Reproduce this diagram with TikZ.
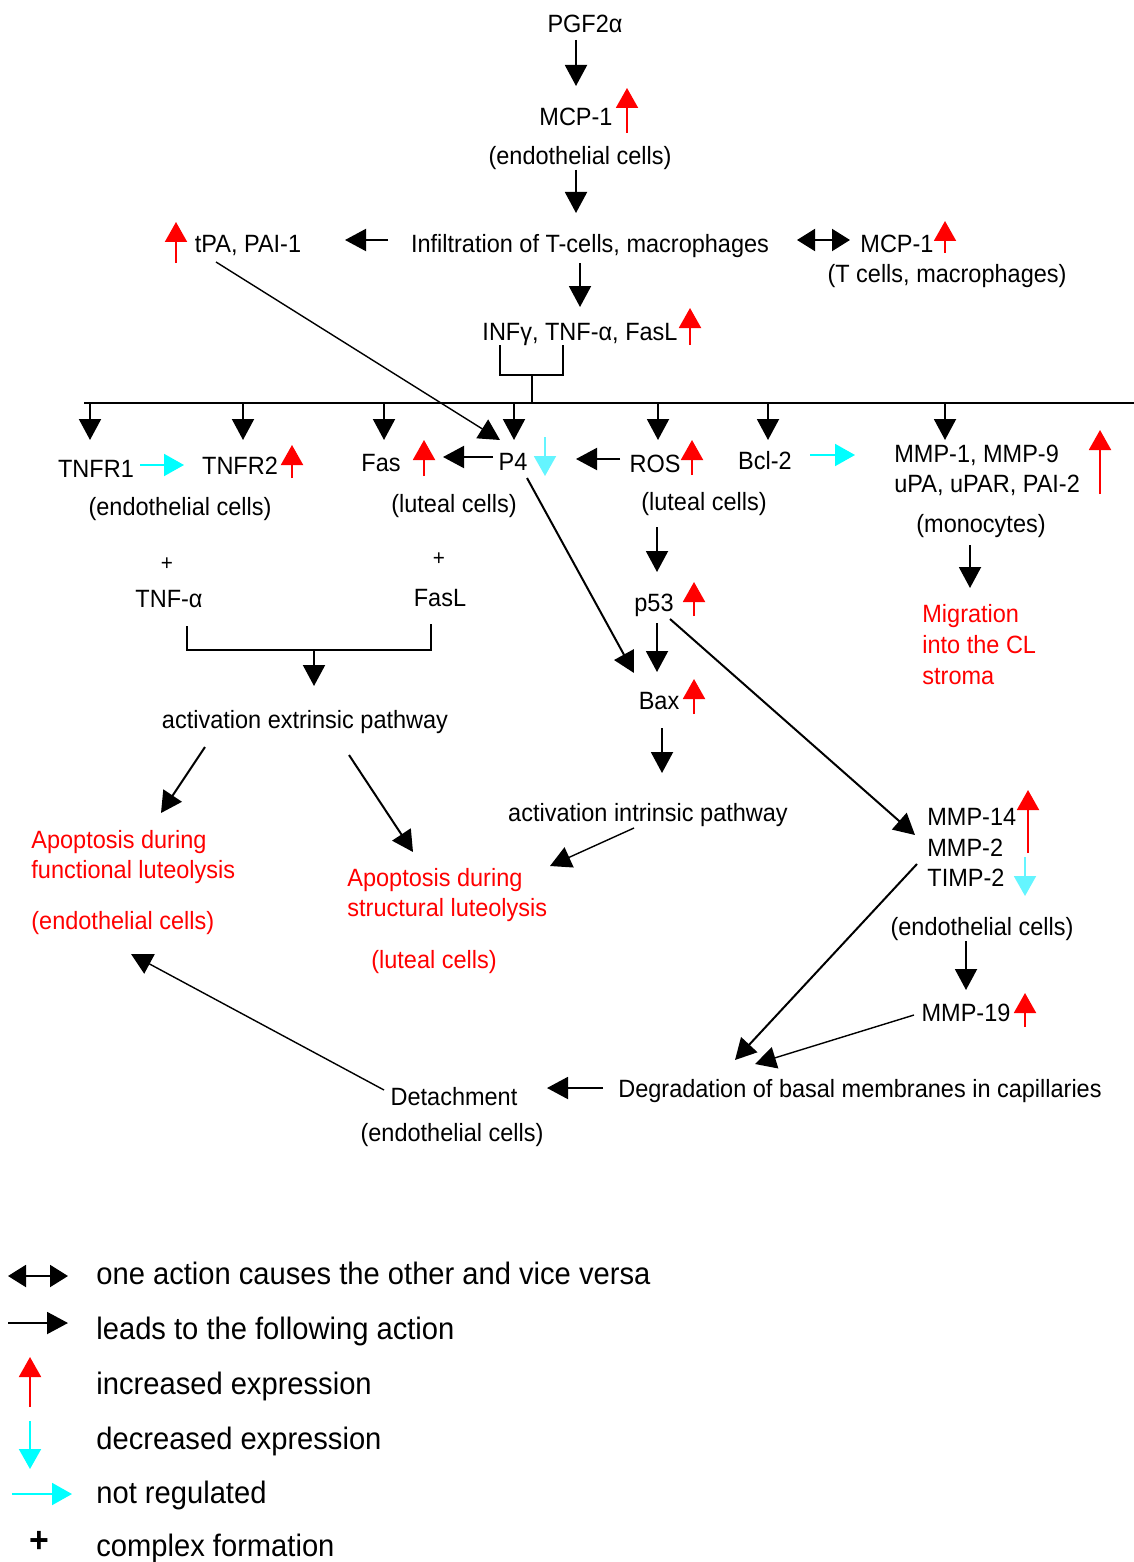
\documentclass[tikz,border=0pt]{standalone}
\usepackage{fontspec}
\setmainfont{Liberation Sans}[FakeStretch=0.94]
\usetikzlibrary{arrows.meta}
\definecolor{upred}{RGB}{255,0,0}
\definecolor{nocyan}{RGB}{0,255,255}
\definecolor{dncyan}{RGB}{100,245,255}
\newcommand\mainsize{\fontsize{12.5}{15}\selectfont}
\newcommand\legsize{\fontsize{15.5}{18}\selectfont}
\tikzset{
  lbl/.style={anchor=base, inner sep=0pt, font=\mainsize},
  lbll/.style={anchor=base west, inner sep=0pt, font=\mainsize},
  leglbl/.style={anchor=base west, inner sep=0pt, font=\legsize},
  redlbl/.style={lbll, text=upred},
  pluslbl/.style={anchor=base, inner sep=0pt, font=\fontsize{11}{12}\selectfont},
  blk/.style={draw=black, line width=1pt, -{Triangle[length=10.5pt,width=11pt]}},
  thinblk/.style={draw=black, line width=0.7pt, -{Triangle[length=10.5pt,width=11pt]}},
  dbl/.style={draw=black, line width=1pt, {Triangle[length=9pt,width=11pt]}-{Triangle[length=9pt,width=11pt]}},
  plainline/.style={draw=black, line width=1pt},
  incrarrow/.style={draw=upred, line width=1pt, -{Triangle[length=10pt,width=11pt]}},
  decrarrow/.style={draw=dncyan, line width=1pt, -{Triangle[length=10pt,width=11pt]}},
  nregarrow/.style={draw=nocyan, line width=1pt, -{Triangle[length=10pt,width=11pt]}},
}
\begin{document}
\begin{tikzpicture}[x=0.5pt,y=-0.5pt]
\useasboundingbox (0,0) rectangle (1134,1562);

% ---------- text nodes ----------
\node[lbl] (pgf) at (585,33) {PGF2α};
\node[lbl] (mcp) at (576,126) {MCP-1};
\node[lbl] (endo1) at (580,165) {(endothelial cells)};
\node[lbl] (infil) at (590,253) {Infiltration of T-cells, macrophages};
\node[lbl] (tpa) at (248,253) {tPA, PAI-1};
\node[lbl] (mcpr) at (897,252) {MCP-1};
\node[lbl] (tcells) at (947,282) {(T cells, macrophages)};
\node[lbl] (inf) at (580,340) {INFγ, TNF-α, FasL};

\node[lbl] (tnfr1) at (96,477) {TNFR1};
\node[lbl] (tnfr2) at (240,474) {TNFR2};
\node[lbl] (endo2) at (180,515) {(endothelial cells)};
\node[lbl] (fas) at (381,471) {Fas};
\node[lbl] (p4) at (513,470) {P4};
\node[lbl] (lut1) at (454,512) {(luteal cells)};
\node[lbl] (ros) at (655,472) {ROS};
\node[lbl] (lut2) at (704,510) {(luteal cells)};
\node[lbl] (bcl) at (765,469) {Bcl-2};
\node[lbll] (mmp1) at (894,462) {MMP-1, MMP-9};
\node[lbll] (upa) at (894,492) {uPA, uPAR, PAI-2};
\node[lbl] (mono) at (981,532) {(monocytes)};

\node[redlbl] (mig1) at (922,622) {Migration};
\node[redlbl] (mig2) at (922,653) {into the CL};
\node[redlbl] (mig3) at (922,684) {stroma};

\node[lbl] (p53) at (654,611) {p53};
\node[lbl] (bax) at (659,709) {Bax};
\node[lbl] (intr) at (648,821) {activation intrinsic pathway};

\node[pluslbl] (plus1) at (167,570) {+};
\node[pluslbl] (plus2) at (439,565) {+};
\node[lbl] (tnfa) at (169,607) {TNF-α};
\node[lbl] (fasl) at (440,606) {FasL};
\node[lbl] (extr) at (305,728) {activation extrinsic pathway};

\node[redlbl] (fun1) at (31,848) {Apoptosis during};
\node[redlbl] (fun2) at (31,878) {functional luteolysis};
\node[redlbl] (fun3) at (31,929) {(endothelial cells)};
\node[redlbl] (str1) at (347,886) {Apoptosis during};
\node[redlbl] (str2) at (347,916) {structural luteolysis};
\node[lbl, text=upred] (str3) at (434,968) {(luteal cells)};

\node[lbll] (mmp14) at (927,825) {MMP-14};
\node[lbll] (mmp2) at (927,856) {MMP-2};
\node[lbll] (timp) at (927,886) {TIMP-2};
\node[lbl] (endo3) at (982,935) {(endothelial cells)};
\node[lbl] (mmp19) at (966,1021) {MMP-19};
\node[lbl] (degr) at (860,1097) {Degradation of basal membranes in capillaries};
\node[lbl] (det) at (454,1105) {Detachment};
\node[lbl] (endo4) at (452,1141) {(endothelial cells)};

% ---------- connector end points ----------
\coordinate (c1a) at (576,40);  \coordinate (c1b) at (576,86);
\coordinate (c2a) at (576,170); \coordinate (c2b) at (576,213);
\coordinate (c3a) at (388,240); \coordinate (c3b) at (345,240);
\coordinate (c4a) at (797,240); \coordinate (c4b) at (850,240);
\coordinate (c5a) at (580,263); \coordinate (c5b) at (580,307);
\coordinate (bl) at (500,345); \coordinate (blb) at (500,375);
\coordinate (br) at (563,345); \coordinate (brb) at (563,375);
\coordinate (bm) at (532,375); \coordinate (bus) at (532,403);
\coordinate (busL) at (84,403); \coordinate (busR) at (1134,403);
\coordinate (tpaS) at (216,262); \coordinate (p4NW) at (500,440);
\coordinate (p4L) at (493,457); \coordinate (fasR) at (443,457);
\coordinate (rosL) at (620,459); \coordinate (p4R) at (576,459);
\coordinate (rosS) at (657,527); \coordinate (p53N) at (657,572);
\coordinate (p53S) at (657,623); \coordinate (baxN) at (657,672);
\coordinate (p4SE) at (527,478); \coordinate (baxNW) at (634,673);
\coordinate (baxS) at (662,728); \coordinate (intrN) at (662,773);
\coordinate (intrSW) at (634,828); \coordinate (strNE) at (550,866);
\coordinate (p53E) at (670,619); \coordinate (mmp14W) at (915,835);
\coordinate (monoS) at (970,545); \coordinate (migN) at (970,588);
\coordinate (tnfaS) at (187,626); \coordinate (tnfaB) at (187,650);
\coordinate (faslS) at (431,624); \coordinate (faslB) at (431,650);
\coordinate (extB) at (314,650); \coordinate (extN) at (314,686);
\coordinate (extSW) at (205,747); \coordinate (funNE) at (161,813);
\coordinate (extSE) at (349,755); \coordinate (strN) at (413,852);
\coordinate (endo3S) at (966,941); \coordinate (mmp19N) at (966,990);
\coordinate (timpW) at (917,864); \coordinate (degrA) at (735,1060);
\coordinate (mmp19W) at (914,1015); \coordinate (degrB) at (755,1064);
\coordinate (degrW) at (603,1088); \coordinate (detE) at (547,1088);
\coordinate (detW) at (384,1090); \coordinate (funS) at (131,954);

% ---------- connectors ----------
\draw[blk] (c1a) -- (c1b);
\draw[blk] (c2a) -- (c2b);
\draw[blk] (c3a) -- (c3b);
\draw[dbl] (c4a) -- (c4b);
\draw[blk] (c5a) -- (c5b);
\draw[plainline] (bl) -- (blb) -- (brb) -- (br);
\draw[plainline] (bm) -- (bus);
\draw[plainline] (busL) -- (busR);
\foreach \x/\nm in {90/tnfr1,243/tnfr2,384/fas,514/p4,658/ros,768/bcl,945/mmp1}
  \draw[blk] (\x,403) -- (\x,440);
\draw[thinblk] (tpaS) -- (p4NW);
\draw[blk] (p4L) -- (fasR);
\draw[blk] (rosL) -- (p4R);
\draw[blk] (rosS) -- (p53N);
\draw[blk] (p53S) -- (baxN);
\draw[blk] (p4SE) -- (baxNW);
\draw[blk] (baxS) -- (intrN);
\draw[thinblk] (intrSW) -- (strNE);
\draw[blk] (p53E) -- (mmp14W);
\draw[blk] (monoS) -- (migN);
\draw[plainline] (tnfaS) -- (tnfaB) -- (faslB) -- (faslS);
\draw[blk] (extB) -- (extN);
\draw[blk] (extSW) -- (funNE);
\draw[blk] (extSE) -- (strN);
\draw[blk] (endo3S) -- (mmp19N);
\draw[blk] (timpW) -- (degrA);
\draw[thinblk] (mmp19W) -- (degrB);
\draw[blk] (degrW) -- (detE);
\draw[thinblk] (detW) -- (funS);

% ---------- regulation marks ----------
\draw[incrarrow] (627,133) -- (627,88);
\draw[incrarrow] (176,263) -- (176,222);
\draw[incrarrow] (945,253) -- (945,221);
\draw[incrarrow] (690,345) -- (690,308);
\draw[nregarrow] (140,465) -- (184,465);
\draw[incrarrow] (292,478) -- (292,445);
\draw[incrarrow] (424,476) -- (424,440);
\draw[decrarrow] (545,437) -- (545,476);
\draw[incrarrow] (692,475) -- (692,440);
\draw[nregarrow] (810,455) -- (855,455);
\draw[incrarrow] (1100,494) -- (1100,430);
\draw[incrarrow] (694,616) -- (694,582);
\draw[incrarrow] (694,714) -- (694,679);
\draw[incrarrow] (1028,853) -- (1028,790);
\draw[decrarrow] (1025,857) -- (1025,896);
\draw[incrarrow] (1025,1027) -- (1025,993);

% ---------- legend ----------
\coordinate (l1a) at (8,1276);  \coordinate (l1b) at (68,1276);
\coordinate (l2a) at (8,1323);  \coordinate (l2b) at (68,1323);
\draw[dbl] (l1a) -- (l1b);
\draw[blk] (l2a) -- (l2b);
\draw[incrarrow] (30,1407) -- (30,1357);
\draw[draw=nocyan, line width=1pt, -{Triangle[length=10pt,width=11pt]}] (30,1421) -- (30,1469);
\draw[nregarrow] (12,1494) -- (72,1494);
\node[anchor=center, inner sep=0pt, font=\fontsize{18}{18}\selectfont\bfseries] (lplus) at (39,1542) {+};
\node[leglbl] (lt1) at (96,1284) {one action causes the other and vice versa};
\node[leglbl] (lt2) at (96,1339) {leads to the following action};
\node[leglbl] (lt3) at (96,1394) {increased expression};
\node[leglbl] (lt4) at (96,1449) {decreased expression};
\node[leglbl] (lt5) at (96,1503) {not regulated};
\node[leglbl] (lt6) at (96,1556) {complex formation};
\end{tikzpicture}
\end{document}
